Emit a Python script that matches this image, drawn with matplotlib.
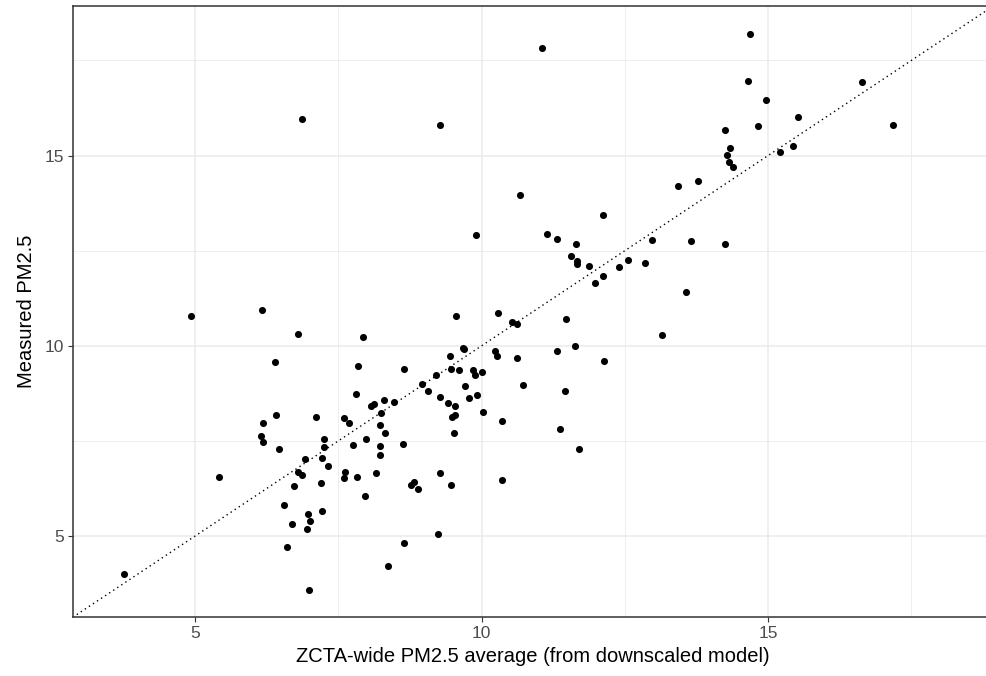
import numpy as np
import matplotlib
matplotlib.use("Agg")
import matplotlib.pyplot as plt
from matplotlib.ticker import MultipleLocator

plt.rcParams['font.family'] = ['Liberation Sans', 'DejaVu Sans']

# ZCTA-wide model average (x) vs measured PM2.5 (y)
model_pm25 = [
    6.87, 9.28, 10.66, 11.05, 14.68, 14.65, 14.25, 14.83, 14.34, 14.29,
    14.32, 14.38, 13.43, 13.77, 14.96, 15.53, 15.20, 15.44, 16.64, 17.18,
    4.92, 6.17, 6.79, 6.39, 9.90, 7.93, 9.55, 10.28, 10.52, 10.61,
    7.84, 7.80, 8.64, 9.45, 9.67, 9.69, 9.46, 9.60, 9.20, 9.84,
    9.88, 10.01, 10.23, 10.27, 10.61, 10.72, 8.96, 9.06, 9.28, 9.41,
    9.53, 9.71, 9.77, 9.92, 8.47, 8.29, 8.12, 8.07, 7.10, 7.59,
    7.68, 8.24, 8.22, 8.31, 7.98, 7.24, 7.25, 7.75, 8.23, 8.22,
    8.62, 10.03, 10.35, 9.49, 9.53, 9.51, 6.91, 7.22, 7.32, 6.80,
    6.86, 6.72, 7.19, 7.62, 7.60, 7.83, 8.15, 7.97, 8.77, 8.82,
    8.88, 9.27, 9.46, 10.35, 6.96, 7.00, 6.95, 7.22, 6.68, 9.24,
    8.64, 8.36, 6.98, 3.75, 5.42, 6.18, 6.41, 6.15, 6.18, 6.46,
    6.55, 6.60, 11.37, 11.70, 12.11, 11.14, 11.32, 11.65, 11.56, 11.66,
    11.67, 11.87, 12.39, 12.56, 12.85, 12.98, 13.65, 14.25, 12.11, 11.97,
    13.56, 11.47, 13.15, 11.31, 11.62, 12.14, 11.45,
]
measured_pm25 = [
    15.97, 15.81, 13.96, 17.82, 18.20, 16.96, 15.67, 15.78, 15.20, 15.01,
    14.84, 14.71, 14.19, 14.34, 16.47, 16.00, 15.10, 15.26, 16.93, 15.79,
    10.79, 10.93, 10.32, 9.58, 12.92, 10.22, 10.78, 10.85, 10.63, 10.56,
    9.47, 8.74, 9.38, 9.72, 9.94, 9.92, 9.38, 9.37, 9.24, 9.37,
    9.24, 9.32, 9.85, 9.72, 9.67, 8.98, 9.00, 8.82, 8.66, 8.49,
    8.41, 8.93, 8.62, 8.71, 8.51, 8.58, 8.46, 8.41, 8.13, 8.09,
    7.98, 8.22, 7.91, 7.70, 7.56, 7.56, 7.35, 7.39, 7.36, 7.14,
    7.41, 8.25, 8.02, 8.13, 8.17, 7.71, 7.03, 7.04, 6.83, 6.69,
    6.61, 6.32, 6.39, 6.68, 6.51, 6.56, 6.66, 6.06, 6.35, 6.42,
    6.23, 6.65, 6.35, 6.48, 5.58, 5.38, 5.18, 5.65, 5.31, 5.04,
    4.81, 4.20, 3.59, 4.00, 6.56, 7.96, 8.17, 7.62, 7.47, 7.28,
    5.82, 4.70, 7.82, 7.28, 13.44, 12.95, 12.81, 12.67, 12.35, 12.22,
    12.16, 12.09, 12.07, 12.25, 12.17, 12.79, 12.74, 12.68, 11.83, 11.66,
    11.42, 10.70, 10.29, 9.86, 9.99, 9.59, 8.80,
]

x = np.array(model_pm25)
y = np.array(measured_pm25)

fig = plt.figure(figsize=(9.86, 6.76), dpi=100)
# panel runs slightly past the right edge, as in the reference
ax = fig.add_axes([0.0737, 0.0868, 0.9337, 0.9043])

# shared limits for both axes, ggplot-style 5% expansion
lo = min(x.min(), y.min())
hi = max(x.max(), y.max())
pad = 0.05 * (hi - lo)
ax.set_xlim(lo - pad, hi + pad)
ax.set_ylim(lo - pad, hi + pad)

ax.set_axisbelow(True)
for axis in (ax.xaxis, ax.yaxis):
    axis.set_major_locator(MultipleLocator(5))
    axis.set_minor_locator(MultipleLocator(2.5))
ax.grid(which='major', color='#EBEBEB', linewidth=1.1)
ax.grid(which='minor', color='#EBEBEB', linewidth=0.6)
ax.tick_params(which='minor', length=0)
ax.tick_params(which='major', length=3.5, width=0.8, color='#333333',
               labelsize=12.5, labelcolor='#4D4D4D', pad=3)

ax.axline((5, 5), slope=1, color='black', linewidth=1.0,
          linestyle=(0, (1, 2.5)))
ax.scatter(x, y, s=26, color='black', linewidths=0, zorder=3)

for sp in ax.spines.values():
    sp.set_color('#333333')
    sp.set_linewidth(1.1)

ax.set_xlabel('ZCTA-wide PM2.5 average (from downscaled model)', fontsize=14.5, labelpad=4)
ax.set_ylabel('Measured PM2.5', fontsize=14.5, labelpad=6)

fig.savefig('out.png', dpi=100)
